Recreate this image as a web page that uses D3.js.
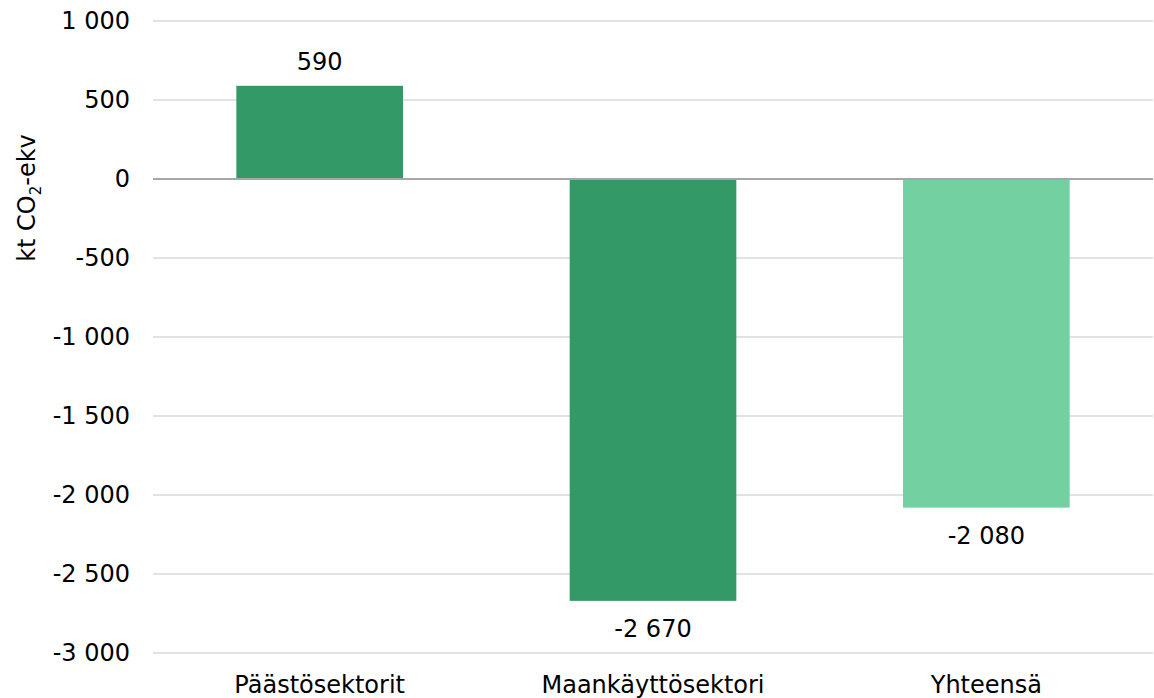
<!DOCTYPE html>
<html>
<head>
<meta charset="utf-8">
<script src="https://cdn.jsdelivr.net/npm/d3@7"></script>
<style>
  html, body { margin: 0; padding: 0; background: #fff; }
  text { font-family: "DejaVu Sans", Verdana, sans-serif; fill: #000; }
</style>
</head>
<body>
<svg id="chart" width="1154" height="698"></svg>
<script>
// Emission balance by sector, kt CO2-eq
const categories = ["Päästösektorit", "Maankäyttösektori", "Yhteensä"];
const values = [590, -2670, -2080];
const barColors = ["#339966", "#339966", "#73d0a1"];
const yTicks = [1000, 500, 0, -500, -1000, -1500, -2000, -2500, -3000];

const svg = d3.select("#chart");
const plot = { left: 153, right: 1153, top: 21, bottom: 653 };
const fontSize = 24;

const x = d3.scaleBand()
  .domain(categories)
  .range([plot.left, plot.right])
  .paddingInner(0.5)
  .paddingOuter(0.25);

const y = d3.scaleLinear()
  .domain([-3000, 1000])
  .range([plot.bottom, plot.top]);

// number formatting with space as thousands separator
const fmt = v => {
  const s = d3.format(",")(Math.abs(v)).replace(/,/g, " ");
  return (v < 0 ? "-" : "") + s;
};

// gridlines
svg.append("g")
  .selectAll("line")
  .data(yTicks.filter(t => t !== 0))
  .join("line")
  .attr("x1", plot.left).attr("x2", plot.right)
  .attr("y1", d => y(d)).attr("y2", d => y(d))
  .attr("stroke", "#d9d9d9")
  .attr("stroke-width", 1.5);

// y axis tick labels
const yAxis = d3.axisLeft(y).tickValues(yTicks).tickSize(0).tickPadding(0).tickFormat(fmt);
const gy = svg.append("g")
  .attr("transform", `translate(130,0)`)
  .call(yAxis);
gy.select(".domain").remove();
gy.selectAll("text")
  .attr("font-size", fontSize)
  .attr("font-family", "DejaVu Sans, Verdana, sans-serif")
  .attr("fill", "#000");

// bars
svg.append("g")
  .selectAll("rect")
  .data(values)
  .join("rect")
  .attr("x", (d, i) => x(categories[i]))
  .attr("width", x.bandwidth())
  .attr("y", d => y(Math.max(0, d)))
  .attr("height", d => Math.abs(y(d) - y(0)))
  .attr("fill", (d, i) => barColors[i]);

// zero line
svg.append("line")
  .attr("x1", plot.left).attr("x2", plot.right)
  .attr("y1", y(0)).attr("y2", y(0))
  .attr("stroke", "#a6a6a6")
  .attr("stroke-width", 2);

// value labels
svg.append("g")
  .selectAll("text")
  .data(values)
  .join("text")
  .attr("x", (d, i) => x(categories[i]) + x.bandwidth() / 2)
  .attr("y", d => d >= 0 ? y(d) - 16 : y(d) + 36)
  .attr("text-anchor", "middle")
  .attr("font-size", fontSize)
  .text(d => fmt(d));

// category labels
const gx = svg.append("g")
  .attr("transform", `translate(0,${plot.bottom})`)
  .call(d3.axisBottom(x).tickSize(0).tickPadding(0));
gx.select(".domain").remove();
gx.selectAll("text")
  .attr("font-size", fontSize)
  .attr("font-family", "DejaVu Sans, Verdana, sans-serif")
  .attr("fill", "#000")
  .attr("dy", null)
  .attr("y", 40);

// y axis title
const title = svg.append("text")
  .attr("transform", "translate(35,198) rotate(-90)")
  .attr("text-anchor", "middle")
  .attr("font-size", fontSize);
title.append("tspan").text("kt CO");
title.append("tspan").attr("font-size", 15).attr("dy", 6).text("2");
title.append("tspan").attr("dy", -6).text("-ekv");
</script>
</body>
</html>
